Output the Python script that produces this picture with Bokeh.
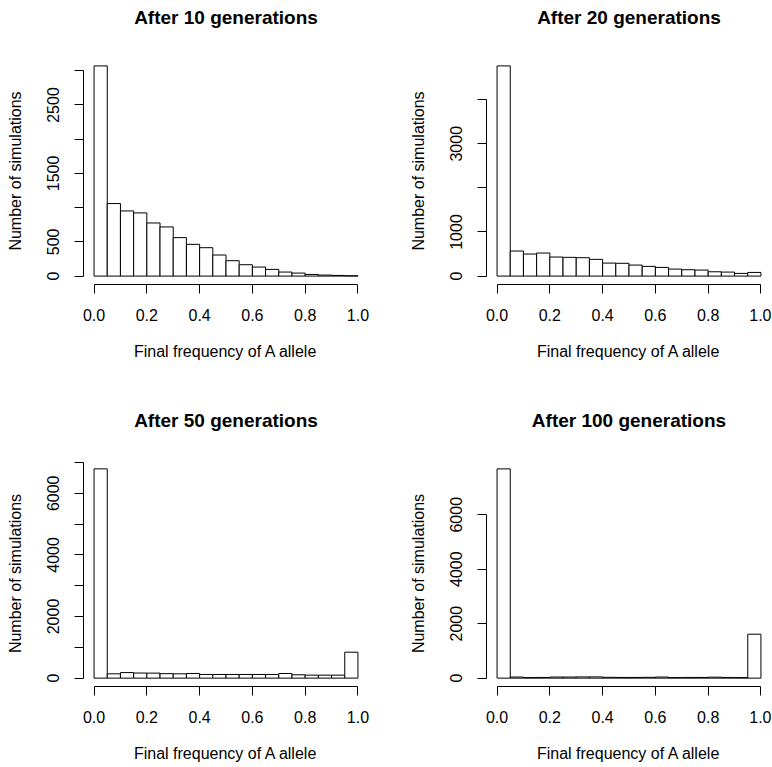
import numpy as np
from bokeh.plotting import figure
from bokeh.layouts import column, row
from bokeh.models import FixedTicker, Range1d, Title
from bokeh.embed import file_html
from bokeh.resources import INLINE

titles = ["After 10 generations", "After 20 generations",
          "After 50 generations", "After 100 generations"]
x_label = "Final frequency of A allele"
y_label = "Number of simulations"

counts_10 = [3071, 1060, 952, 923, 776, 718, 562, 464, 415, 308,
             225, 166, 132, 98, 59, 44, 24, 15, 10, 5]
counts_20 = [4765, 568, 500, 523, 432, 425, 417, 379, 295, 290,
             250, 220, 197, 159, 144, 136, 98, 91, 61, 83]
counts_50 = [6793, 140, 180, 165, 162, 145, 140, 151, 119, 119,
             119, 119, 119, 119, 151, 108, 97, 97, 97, 842]
counts_100 = [7685, 40, 20, 25, 40, 40, 45, 45, 30, 25,
              25, 30, 40, 20, 25, 25, 35, 25, 20, 1613]

x_ticks = [0.0, 0.2, 0.4, 0.6, 0.8, 1.0]
y_ticks_10 = [0, 500, 1000, 1500, 2000, 2500, 3000]
y_labels_10 = ["0", "500", "", "1500", "", "2500", ""]
y_ticks_20 = [0, 1000, 2000, 3000, 4000]
y_labels_20 = ["0", "1000", "", "3000", ""]
y_ticks_50 = [0, 1000, 2000, 3000, 4000, 5000, 6000, 7000]
y_labels_50 = ["0", "", "2000", "", "4000", "", "6000", ""]
y_ticks_100 = [0, 2000, 4000, 6000]
y_labels_100 = ["0", "2000", "4000", "6000"]

FONT = "Liberation Sans"


def panel(title, counts, yt, yl, borders, frame_h):
    counts = np.asarray(counts, dtype=float)
    n = len(counts)
    edges = np.linspace(0.0, 1.0, n + 1)
    ymax = counts.max()
    bl, br, bt, bb = borders
    p = figure(frame_width=285, frame_height=frame_h,
               x_range=Range1d(-0.04, 1.04),
               y_range=Range1d(-0.04 * ymax, 1.04 * ymax),
               output_backend="svg", toolbar_location=None,
               min_border_left=bl, min_border_right=br,
               min_border_top=bt, min_border_bottom=bb)
    p.quad(left=edges[:-1], right=edges[1:], bottom=0, top=counts,
           fill_color="white", line_color="black", line_width=1)
    p.outline_line_color = None
    p.xgrid.visible = False
    p.ygrid.visible = False
    p.background_fill_color = "white"
    p.border_fill_color = "white"

    # spacer between frame and title, then the title itself
    p.add_layout(Title(text=" ", text_font_size="1px", standoff=27), "above")
    p.add_layout(Title(text=title, align="center", text_font=FONT,
                       text_font_size="19px", text_font_style="bold",
                       text_color="black", standoff=0), "above")

    xa = p.xaxis[0]
    xa.bounds = (0, 1)
    xa.ticker = FixedTicker(ticks=x_ticks)
    xa.major_label_overrides = {t: f"{t:.1f}" for t in x_ticks}
    xa.axis_label = x_label
    ya = p.yaxis[0]
    ya.bounds = (yt[0], yt[-1])
    ya.ticker = FixedTicker(ticks=yt)
    ya.major_label_overrides = {t: l for t, l in zip(yt, yl)}
    ya.axis_label = y_label
    ya.major_label_orientation = "vertical"
    for ax in (xa, ya):
        ax.axis_line_color = "black"
        ax.axis_line_width = 1
        ax.major_tick_line_color = "black"
        ax.major_tick_out = 9
        ax.major_tick_in = 0
        ax.minor_tick_line_color = None
        ax.major_label_text_font = FONT
        ax.major_label_text_font_size = "16px"
        ax.major_label_text_color = "black"
        ax.axis_label_text_font = FONT
        ax.axis_label_text_font_size = "16px"
        ax.axis_label_text_font_style = "normal"
        ax.axis_label_text_color = "black"
    xa.major_label_standoff = 15
    xa.axis_label_standoff = 19
    ya.major_label_standoff = 15
    ya.axis_label_standoff = 21
    return p


p1 = panel(titles[0], counts_10, y_ticks_10, y_labels_10, (83, 18, 57, 99), 227)
p2 = panel(titles[1], counts_20, y_ticks_20, y_labels_20, (100, 0, 57, 99), 227)
p3 = panel(titles[2], counts_50, y_ticks_50, y_labels_50, (83, 18, 77, 80), 226)
p4 = panel(titles[3], counts_100, y_ticks_100, y_labels_100, (100, 0, 77, 80), 226)

layout = column(row(p1, p2), row(p3, p4))
open("out.html", "w").write(file_html(layout, INLINE))
